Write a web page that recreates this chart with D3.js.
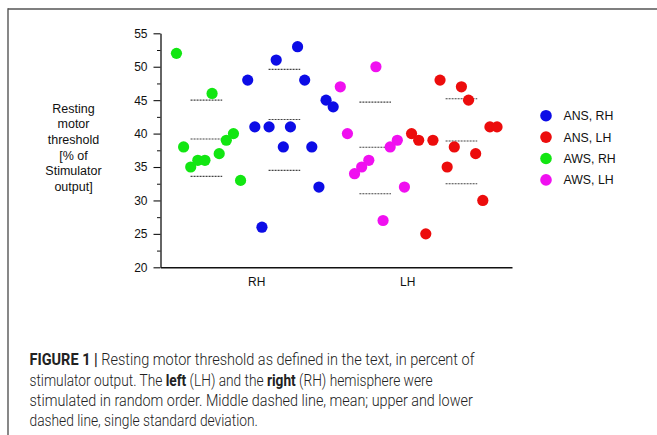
<!DOCTYPE html>
<html>
<head>
<meta charset="utf-8">
<script src="https://cdn.jsdelivr.net/npm/d3@7"></script>
<style>
  html, body { margin: 0; padding: 0; background: #fff; }
  svg { display: block; }
</style>
</head>
<body>
<svg id="chart" width="657" height="435"></svg>
<script>
// ---------------- data ----------------
const seriesNames = ["ANS, RH", "ANS, LH", "AWS, RH", "AWS, LH"];
const seriesColors = ["#0c0ce6", "#ec0c0c", "#12e612", "#f010f0"];
// values in plotting order (left to right): AWS RH, ANS RH, AWS LH, ANS LH
const awsRH = [52, 38, 35, 36, 36, 46, 37, 39, 40, 33];
const ansRH = [48, 41, 26, 41, 51, 38, 41, 53, 48, 38, 32, 45, 44];
const awsLH = [47, 40, 34, 35, 36, 50, 27, 38, 39, 32];
const ansLH = [40, 39, 25, 39, 48, 35, 38, 47, 45, 37, 30, 41, 41];
// mean, mean+SD, mean-SD (as drawn)
const awsRHStats = [39.2, 45.0, 33.6];
const ansRHStats = [42.1, 49.6, 34.5];
const awsLHStats = [37.95, 44.7, 31.0];
const ansLHStats = [38.9, 45.2, 32.5];
const xCategories = ["RH", "LH"];
const yTicks = [20, 25, 30, 35, 40, 45, 50, 55];
const yLabelLines = ["Resting", "motor", "threshold", "[% of", "Stimulator", "output]"];
const captionLines = [
  [["FIGURE 1 | ", true], ["Resting motor threshold as defined in the text, in percent of", false]],
  [["stimulator output. The ", false], ["left", true], [" (LH) and the ", false], ["right", true], [" (RH) hemisphere were", false]],
  [["stimulated in random order. Middle dashed line, mean; upper and lower", false]],
  [["dashed line, single standard deviation.", false]]
];

// ---------------- layout ----------------
const svg = d3.select("#chart");
const groups = [
  { vals: awsRH, stats: awsRHStats, color: seriesColors[2] },
  { vals: ansRH, stats: ansRHStats, color: seriesColors[0] },
  { vals: awsLH, stats: awsLHStats, color: seriesColors[3] },
  { vals: ansLH, stats: ansLHStats, color: seriesColors[1] }
];
let idx = 0;
const points = [];
groups.forEach(g => {
  g.start = idx;
  g.vals.forEach(v => { points.push({ i: idx, v: v, color: g.color }); idx++; });
  g.end = idx - 1;
});

const x = d3.scaleLinear().domain([-2.24, 47.1]).range([160.5, 512]);
const y = d3.scaleLinear().domain([20, 55]).range([267.3, 33.3]);

// frame
svg.append("line").attr("x1", 8).attr("x2", 657).attr("y1", 9).attr("y2", 9)
  .attr("stroke", "#555").attr("stroke-width", 1.4);
svg.append("line").attr("x1", 8).attr("x2", 8).attr("y1", 8.3).attr("y2", 435)
  .attr("stroke", "#555").attr("stroke-width", 1.4);

// y axis
const yAxis = svg.append("g").attr("transform", `translate(${x.range()[0]},0)`)
  .call(d3.axisLeft(y).tickValues(yTicks).tickSize(7).tickPadding(6).tickSizeOuter(0));
yAxis.select(".domain").attr("stroke", "#111").attr("stroke-width", 1.3);
yAxis.selectAll(".tick line").attr("stroke", "#111").attr("stroke-width", 1.1);
yAxis.selectAll("text").attr("font-family", "Liberation Sans, Arial, sans-serif")
  .attr("font-size", 12).attr("fill", "#111");
const minor = d3.range(22.5, 55, 5);
const yMinor = svg.append("g").attr("transform", `translate(${x.range()[0]},0)`)
  .call(d3.axisLeft(y).tickValues(minor).tickSize(3.5).tickFormat(""));
yMinor.select(".domain").remove();
yMinor.selectAll(".tick line").attr("stroke", "#111").attr("stroke-width", 1);

// x axis
const xTickPos = [11.2, 32.4];
const xAxis = svg.append("g").attr("transform", `translate(0,${y(20)})`)
  .call(d3.axisBottom(x).tickValues(xTickPos).tickSize(0).tickPadding(10.5)
    .tickFormat((d, i) => xCategories[i]));
xAxis.select(".domain").attr("stroke", "#111").attr("stroke-width", 1.4);
xAxis.selectAll("text").attr("font-family", "Liberation Sans, Arial, sans-serif")
  .attr("font-size", 12).attr("fill", "#111");

// y label
svg.append("text")
  .attr("font-family", "Liberation Sans, Arial, sans-serif")
  .attr("font-size", 12.5).attr("fill", "#111").attr("text-anchor", "middle")
  .selectAll("tspan").data(yLabelLines).join("tspan")
  .attr("x", 73.5).attr("y", (d, i) => 112.7 + i * 15.6).text(d => d);

// mean / SD dashed lines
const statLineHalf = 2.22;
const centers = [4.2, 15.15, 27.9, 40.0];
groups.forEach((g, gi) => {
  const c = centers[gi];
  svg.append("g").selectAll("line").data(g.stats).join("line")
    .attr("x1", x(c - statLineHalf)).attr("x2", x(c + statLineHalf))
    .attr("y1", d => y(d)).attr("y2", d => y(d))
    .attr("stroke", "#444").attr("stroke-width", 1.1).attr("stroke-dasharray", "2,1");
});

// points
svg.append("g").selectAll("circle").data(points).join("circle")
  .attr("cx", d => x(d.i)).attr("cy", d => y(d.v)).attr("r", 5.6)
  .attr("fill", d => d.color);

// legend
const leg = svg.append("g");
seriesNames.forEach((n, i) => {
  const yy = 115.7 + i * 21.4;
  leg.append("circle").attr("cx", 546).attr("cy", yy).attr("r", 5.8).attr("fill", seriesColors[i]);
  leg.append("text").attr("x", 563.5).attr("y", yy).attr("dy", "0.36em")
    .attr("font-family", "Liberation Sans, Arial, sans-serif").attr("font-size", 12.3)
    .attr("fill", "#111").text(n);
});

// caption
const capX = 29.5;
const capBase = [365, 385.5, 405.8, 426];
const capEnd = [475, 433, 473, 258];
captionLines.forEach((parts, li) => {
  const t = svg.append("text").attr("x", 0).attr("y", 0)
    .attr("font-family", "Roboto, Liberation Sans, sans-serif")
    .attr("font-size", 16).attr("fill", "#222");
  parts.forEach(p => {
    t.append("tspan").attr("font-weight", p[1] ? 700 : 300).text(p[0]);
  });
  const len = t.node().getComputedTextLength();
  const sx = (capEnd[li] - capX) / len;
  t.attr("transform", `translate(${capX},${capBase[li]}) scale(${sx},1)`);
});
</script>
</body>
</html>
